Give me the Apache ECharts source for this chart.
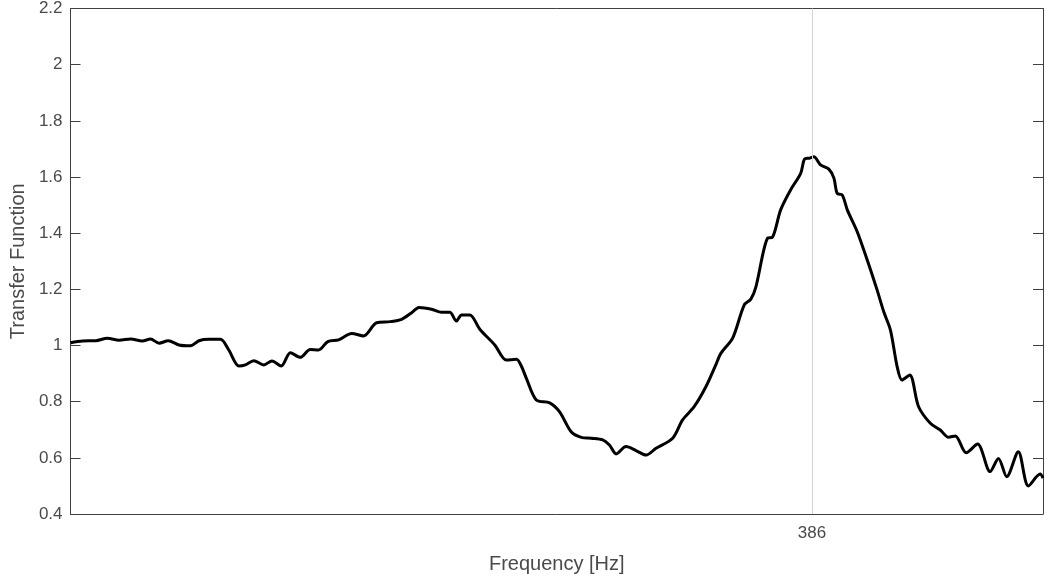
<!DOCTYPE html>
<html>
<head>
<meta charset="utf-8">
<title>Transfer Function</title>
<script src="https://cdn.jsdelivr.net/npm/echarts@6/dist/echarts.min.js"></script>
<style>
  html, body { margin: 0; padding: 0; background: #ffffff; }
  #chart { width: 1045px; height: 583px; }
</style>
</head>
<body>
<div id="chart"></div>
<script>
// Frequency axis samples [Hz]
const frequency = [20.0,25.9,32.5,38.2,44.0,49.7,55.4,59.5,63.7,68.2,73.5,79.2,83.4,88.3,94.0,98.1,
  103.1,106.3,110.4,115.4,119.4,124.0,128.5,133.4,138.3,142.4,147.0,152.3,158.8,164.6,171.1,177.7,
  183.4,188.4,192.0,198.2,203.1,207.2,210.5,213.0,217.1,222.0,229.4,235.1,240.1,242.5,245.0,249.9,
  256.5,261.4,267.1,272.1,277.0,282.7,286.0,289.3,294.2,299.1,304.1,309.0,317.2,322.1,327.8,333.6,
  338.5,341.0,346.8,352.5,355.8,358.3,364.0,366.4,370.5,375.4,380.4,382.3,384.5,386.9,390.2,394.3,
  396.8,398.4,400.9,403.4,408.3,413.2,418.1,421.4,424.7,428.0,430.4,434.2,438.6,444.4,449.3,453.4,
  456.7,462.1,467.7,473.9,478.0,482.1,487.8,492.8,498.6,500.0];

// Transfer function magnitude at each frequency
const transfer = [1.010,1.016,1.017,1.026,1.019,1.023,1.016,1.023,1.008,1.017,1.002,0.999,1.017,1.022,1.022,0.984,
  0.927,0.931,0.946,0.931,0.945,0.927,0.974,0.958,0.986,0.984,1.014,1.020,1.043,1.034,1.081,1.085,
  1.093,1.117,1.135,1.129,1.118,1.118,1.087,1.109,1.109,1.058,1.002,0.948,0.951,0.927,0.883,0.806,
  0.796,0.764,0.693,0.673,0.670,0.664,0.646,0.614,0.640,0.626,0.610,0.634,0.670,0.735,0.782,0.853,
  0.931,0.972,1.026,1.144,1.165,1.209,1.382,1.385,1.483,1.554,1.613,1.664,1.667,1.672,1.643,1.628,
  1.596,1.542,1.536,1.483,1.405,1.305,1.198,1.120,1.055,0.925,0.877,0.895,0.782,0.723,0.699,0.673,
  0.678,0.618,0.649,0.551,0.598,0.533,0.622,0.500,0.542,0.528];

// Axis ranges and tick labels
const xRange = [20, 500];
const xTicks = [386];
const yTicks = [0.4, 0.6, 0.8, 1.0, 1.2, 1.4, 1.6, 1.8, 2.0, 2.2];

const points = frequency.map((f, i) => [f, transfer[i]]);

const axisColor = '#404040';
const textColor = '#4a4a4a';
const fontFamily = '"Liberation Sans", Arial, Helvetica, sans-serif';

const chart = echarts.init(document.getElementById('chart'), null, { renderer: 'canvas' });

chart.setOption({
  animation: false,
  backgroundColor: '#ffffff',
  grid: { left: 68, right: 2, top: 8, bottom: 69, containLabel: false },
  xAxis: [
    {
      type: 'value',
      position: 'bottom',
      min: xRange[0],
      max: xRange[1],
      name: 'Frequency [Hz]',
      nameLocation: 'middle',
      nameGap: 40,
      nameTextStyle: { color: textColor, fontSize: 20, fontFamily: fontFamily },
      axisLine: { show: true, onZero: false, lineStyle: { color: axisColor, width: 1 } },
      axisTick: { show: true, inside: true, length: 10, customValues: xTicks, lineStyle: { color: axisColor } },
      axisLabel: { show: true, customValues: xTicks, margin: 11, color: textColor, fontSize: 17, fontFamily: fontFamily },
      splitLine: { show: false }
    },
    {
      type: 'value',
      position: 'top',
      min: xRange[0],
      max: xRange[1],
      axisLine: { show: true, onZero: false, lineStyle: { color: axisColor, width: 1 } },
      axisTick: { show: true, inside: true, length: 10, customValues: xTicks, lineStyle: { color: axisColor } },
      axisLabel: { show: false },
      splitLine: { show: false }
    }
  ],
  yAxis: [
    {
      type: 'value',
      position: 'left',
      min: yTicks[0],
      max: yTicks[yTicks.length - 1],
      interval: 0.2,
      name: 'Transfer Function',
      nameLocation: 'middle',
      nameGap: 42,
      nameRotate: 90,
      nameTextStyle: { color: textColor, fontSize: 20, fontFamily: fontFamily },
      axisLine: { show: true, onZero: false, lineStyle: { color: axisColor, width: 1 } },
      axisTick: { show: true, inside: true, length: 10, customValues: yTicks, lineStyle: { color: axisColor } },
      axisLabel: {
        show: true, customValues: yTicks, margin: 8, color: textColor, fontSize: 17, fontFamily: fontFamily,
        padding: [5, 0, 0, 0],
        formatter: v => String(Math.round(v * 10) / 10)
      },
      splitLine: { show: false }
    },
    {
      type: 'value',
      position: 'right',
      min: yTicks[0],
      max: yTicks[yTicks.length - 1],
      interval: 0.2,
      axisLine: { show: true, onZero: false, lineStyle: { color: axisColor, width: 1 } },
      axisTick: { show: true, inside: true, length: 10, customValues: yTicks, lineStyle: { color: axisColor } },
      axisLabel: { show: false },
      splitLine: { show: false }
    }
  ],
  series: [
    {
      // light reference line at the marked frequency, kept under the curve
      type: 'line',
      data: [],
      z: 1,
      silent: true,
      markLine: {
        silent: true,
        symbol: 'none',
        label: { show: false },
        lineStyle: { color: '#d4d4d4', width: 1, type: 'solid' },
        data: xTicks.map(v => ({ xAxis: v }))
      }
    },
    {
      name: 'Transfer Function',
      type: 'line',
      z: 3,
      data: points,
      showSymbol: false,
      smooth: 0.3,
      lineStyle: { color: '#000000', width: 3 },
      clip: true
    }
  ]
});
</script>
</body>
</html>
